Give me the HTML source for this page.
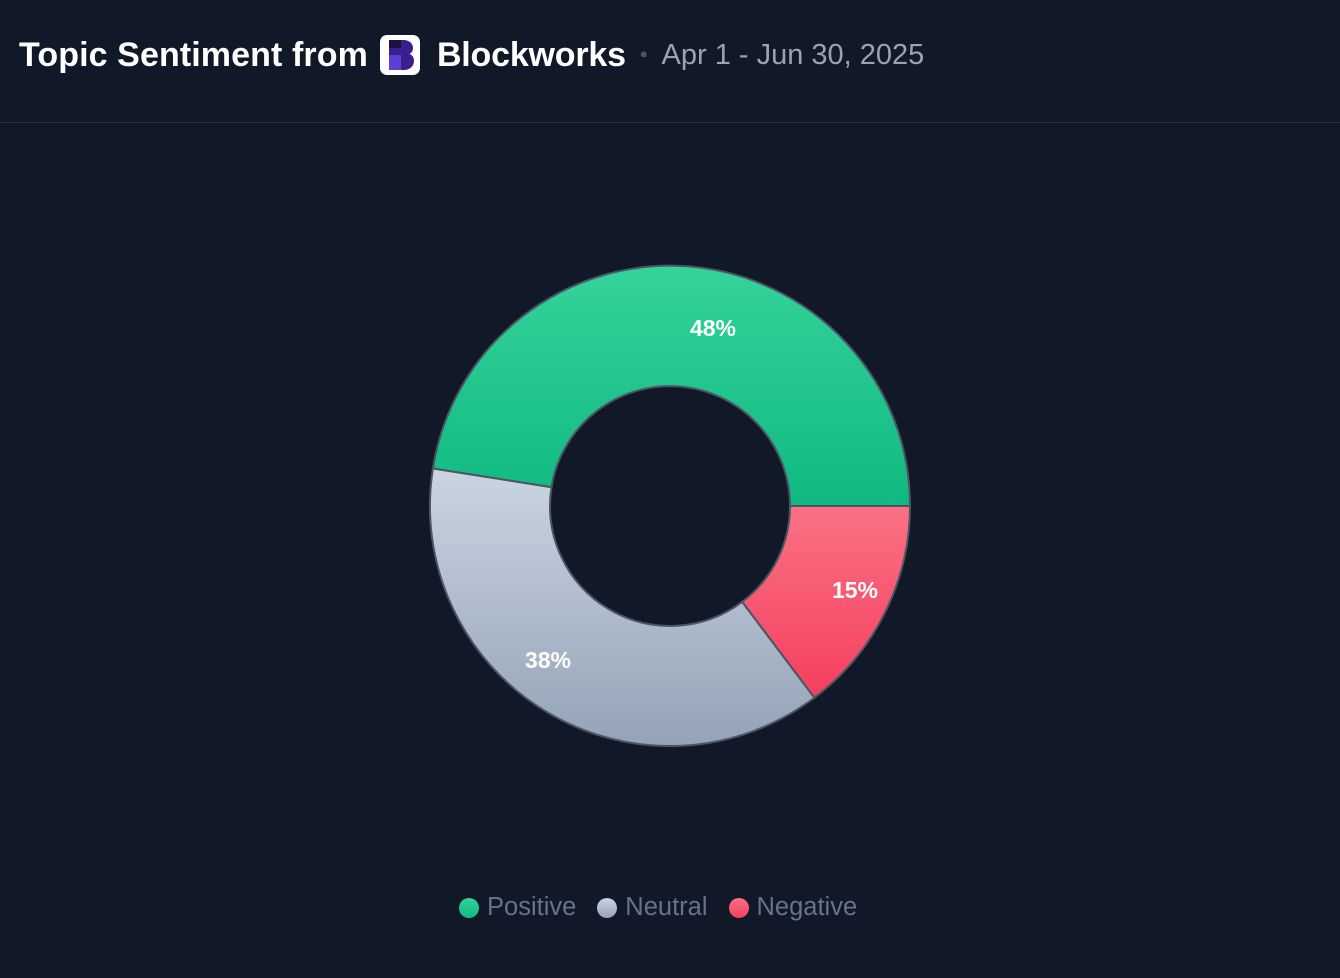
<!DOCTYPE html>
<html><head><meta charset="utf-8"><style>
body{margin:0;width:1340px;height:978px;background:#111827;font-family:"Liberation Sans",sans-serif;overflow:hidden;position:relative}
.h{position:absolute;top:30px;left:19px;height:50px;display:flex;align-items:center;white-space:nowrap}
.t{color:#fff;font-size:34px;font-weight:bold;letter-spacing:0.1px}
.logo{width:40px;height:40px;background:#fff;border-radius:7px;margin:0 17px 0 12px;position:relative}
.d{color:#9ca3af;font-size:29px}
.line{position:absolute;top:122px;left:0;width:1340px;height:1px;background:#263041}
.lg{position:absolute;top:893px;left:459px;display:flex;align-items:center;font-size:25.5px;color:#64748b}
.c{width:20px;height:20px;border-radius:50%;margin-right:8px}
</style></head><body>
<div class="h"><span class="t">Topic Sentiment from</span><span class="logo"><svg width="40" height="40"><path d="M9 5h14c7 0 10 4 10 8 0 3-1.5 5-3.5 6 3 1 4.5 3.5 4.5 7 0 5-4 9-10 9H9z" fill="#3b1f8f"/><rect x="9" y="20" width="12" height="15" fill="#5b3fd6"/><rect x="9" y="5" width="12" height="8" fill="#1e1040"/></svg></span><span class="t" style="letter-spacing:-0.2px">Blockworks</span><span style="color:#4b5563;font-size:22px;margin:0 14px 0 14px">•</span><span class="d">Apr 1 - Jun 30, 2025</span></div>
<div class="line"></div>
<svg width="1340" height="978" style="position:absolute;left:0;top:0">
<defs>
<linearGradient id="g" x1="0" y1="0" x2="0" y2="1"><stop offset="0" stop-color="#34d399"/><stop offset="1" stop-color="#10b981"/></linearGradient>
<linearGradient id="n" x1="0" y1="0" x2="0" y2="1"><stop offset="0" stop-color="#cbd5e1"/><stop offset="1" stop-color="#94a3b8"/></linearGradient>
<linearGradient id="r" x1="0" y1="0" x2="0" y2="1"><stop offset="0" stop-color="#fb7185"/><stop offset="1" stop-color="#f43f5e"/></linearGradient>
</defs>
<g stroke="#4b5563" stroke-width="2">
<path d="M910,506 A240 240 0 0 0 432.9,468.5 L551.5,487.2 A120 120 0 0 1 790,506 Z" fill="url(#g)"/>
<path d="M432.9,468.5 A240 240 0 0 0 814.4,697.7 L742.2,601.8 A120 120 0 0 1 551.5,487.2 Z" fill="url(#n)"/>
<path d="M814.4,697.7 A240 240 0 0 0 910,506 L790,506 A120 120 0 0 1 742.2,601.8 Z" fill="url(#r)"/>
</g>
<g fill="#fff" font-size="23" font-weight="bold" text-anchor="middle" font-family="Liberation Sans, sans-serif">
<text x="713" y="336">48%</text><text x="855" y="598">15%</text><text x="548" y="668">38%</text>
</g>
</svg>
<div class="lg"><span class="c" style="background:linear-gradient(#34d399,#10b981)"></span>Positive<span class="c" style="background:linear-gradient(#cbd5e1,#94a3b8);margin-left:21px"></span>Neutral<span class="c" style="background:linear-gradient(#fb7185,#f43f5e);margin-left:21px"></span>Negative</div>
</body></html>
